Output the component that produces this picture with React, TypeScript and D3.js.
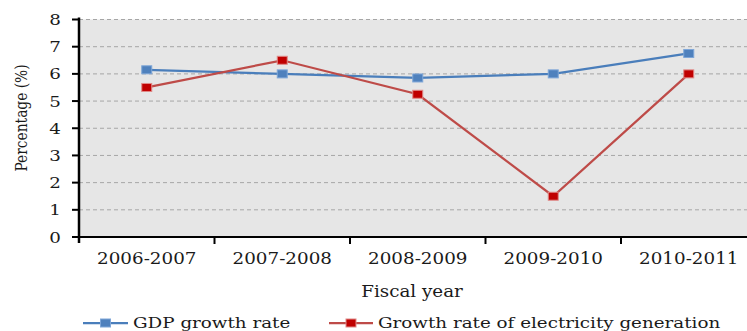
import React from "react";
import * as d3 from "d3";

const categories = ["2006-2007", "2007-2008", "2008-2009", "2009-2010", "2010-2011"];
const gdpGrowth = [6.15, 6.0, 5.85, 6.0, 6.75];
const electricityGrowth = [5.5, 6.5, 5.25, 1.5, 6.0];
const yTicks = [0, 1, 2, 3, 4, 5, 6, 7, 8];
const seriesNames = ["GDP growth rate", "Growth rate of electricity generation"];
const xTitle = "Fiscal year";
const yTitle = "Percentage (%)";

const W = 747;
const H = 331;
const left = 79;
const top = 19.5;
const bottom = 237;
const bandW = 135.5;
const SX = 1.145;

const FONT = "'DejaVu Serif', serif";

function T({
  x,
  y,
  anchor = "start",
  size = 16,
  sx = SX,
  sy = 1,
  rotate = 0,
  fill = "#1a1a1a",
  children,
}: {
  x: number;
  y: number;
  anchor?: string;
  size?: number;
  sx?: number;
  sy?: number;
  rotate?: number;
  fill?: string;
  children: React.ReactNode;
}) {
  return (
    <text
      transform={`translate(${x},${y}) rotate(${rotate}) scale(${sx},${sy})`}
      textAnchor={anchor}
      fontFamily={FONT}
      fontSize={size}
      fill={fill}
    >
      {children}
    </text>
  );
}

export default function App() {
  const x = d3
    .scaleBand<string>()
    .domain(categories)
    .range([left, left + bandW * categories.length])
    .padding(0);
  const y = d3.scaleLinear().domain([0, 8]).range([bottom, top]);
  const cx = (c: string) => (x(c) as number) + x.bandwidth() / 2;

  const line = d3
    .line<number>()
    .x((_, i) => cx(categories[i]))
    .y((d) => y(d));

  const series = [
    { name: seriesNames[0], values: gdpGrowth, color: "#4a7ebb", fill: "#4f81bd", stroke: "#7ea6d8" },
    { name: seriesNames[1], values: electricityGrowth, color: "#be4b48", fill: "#c00000", stroke: "#e08a88" },
  ];

  return (
    <div style={{ position: "absolute", left: 0, top: 0 }}>
      <svg width={W} height={H} style={{ display: "block" }}>
        <rect x={0} y={0} width={W} height={H} fill="#ffffff" />
        <rect x={left} y={top} width={W - left + 20} height={bottom - top} fill="#e6e6e6" />
        {yTicks.slice(1).map((t) => (
          <line
            key={t}
            x1={left}
            x2={W}
            y1={y(t)}
            y2={y(t)}
            stroke="#a6a6a6"
            strokeWidth={1}
            strokeDasharray="4,3"
          />
        ))}
        {/* y axis */}
        <line x1={left} x2={left} y1={top - 2} y2={bottom + 6} stroke="#000" strokeWidth={2.5} />
        {yTicks.map((t) => (
          <g key={t}>
            <line x1={left - 7} x2={left} y1={y(t)} y2={y(t)} stroke="#000" strokeWidth={2} />
            <T x={61} y={y(t) + 5.5} anchor="end" size={15} sx={1.22}>
              {t}
            </T>
          </g>
        ))}
        {/* x axis */}
        <line x1={left} x2={W} y1={bottom} y2={bottom} stroke="#000" strokeWidth={2} />
        {categories.map((c, i) =>
          i === 0 ? null : (
            <line
              key={c}
              x1={x(c) as number}
              x2={x(c) as number}
              y1={bottom}
              y2={bottom + 7}
              stroke="#000"
              strokeWidth={2}
            />
          )
        )}
        {categories.map((c) => (
          <T key={c} x={cx(c)} y={264} anchor="middle">
            {c}
          </T>
        ))}
        <T x={412} y={297} anchor="middle">
          {xTitle}
        </T>
        <T x={27} y={118} anchor="middle" rotate={-90} sx={0.92} sy={1.1} size={15}>
          {yTitle}
        </T>
        {series.map((s) => (
          <g key={s.name}>
            <path d={line(s.values) || ""} fill="none" stroke={s.color} strokeWidth={2.25} />
            {s.values.map((v, i) => (
              <rect
                key={i}
                x={cx(categories[i]) - 5}
                y={y(v) - 4}
                width={10}
                height={8}
                fill={s.fill}
                stroke={s.stroke}
                strokeWidth={1}
              />
            ))}
          </g>
        ))}
        {/* legend */}
        {[
          { s: series[0], x0: 83, x1: 128, tx: 133 },
          { s: series[1], x0: 329, x1: 373, tx: 378 },
        ].map(({ s, x0, x1, tx }) => (
          <g key={s.name}>
            <line x1={x0} x2={x1} y1={323} y2={323} stroke={s.color} strokeWidth={2.25} />
            <rect
              x={(x0 + x1) / 2 - 5}
              y={319}
              width={10}
              height={8}
              fill={s.fill}
              stroke={s.stroke}
              strokeWidth={1}
            />
            <T x={tx} y={327.5} size={15} sx={1.22}>
              {s.name}
            </T>
          </g>
        ))}
      </svg>
    </div>
  );
}
